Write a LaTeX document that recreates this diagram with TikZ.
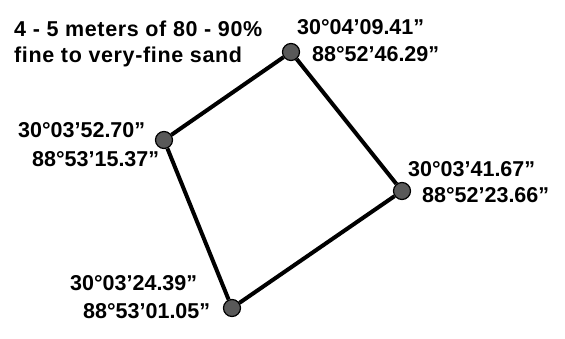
\documentclass[tikz,border=0pt]{standalone}
\usepackage{fontspec}
\setmainfont{Liberation Sans}
\usepackage{tikz}
\usetikzlibrary{positioning}

\begin{document}
\begin{tikzpicture}[
  x=1pt, y=-1pt,
  every node/.style={font=\fontsize{21.5}{26}\selectfont\bfseries, inner sep=0pt},
  corner/.style={circle, minimum size=17pt, fill=black!65, draw=black, line width=1.2pt},
  edge/.style={line width=4pt},
  coordlabel/.style={anchor=base west},
  notelabel/.style={anchor=base west, font=\fontsize{21.5}{26}\selectfont\bfseries\addfontfeatures{LetterSpace=3}}
]
  \useasboundingbox (0,0) rectangle (565,339);

  % corners of the site
  \node[corner] (top)    at (291,52)  {};
  \node[corner] (left)   at (164,140) {};
  \node[corner] (right)  at (402,191) {};
  \node[corner] (bottom) at (232,308) {};

  \draw[edge] (top) -- (right) -- (bottom) -- (left) -- (top);

  % sediment note
  \node[notelabel] (note1) at (14,37) {4 - 5 meters of 80 - 90\%};
  \node[notelabel] (note2) at (14,63) {fine to very-fine sand};

  % coordinates
  \node[coordlabel] (toplat)    at (297,35)  {30°04’09.41”};
  \node[coordlabel] (toplon)    at (312,62)  {88°52’46.29”};
  \node[coordlabel] (leftlat)   at (18,138)  {30°03’52.70”};
  \node[coordlabel] (leftlon)   at (32,167)  {88°53’15.37”};
  \node[coordlabel] (rightlat)  at (408,177) {30°03’41.67”};
  \node[coordlabel] (rightlon)  at (422,203) {88°52’23.66”};
  \node[coordlabel] (bottomlat) at (70,290)  {30°03’24.39”};
  \node[coordlabel] (bottomlon) at (83,318)  {88°53’01.05”};
\end{tikzpicture}
\end{document}
